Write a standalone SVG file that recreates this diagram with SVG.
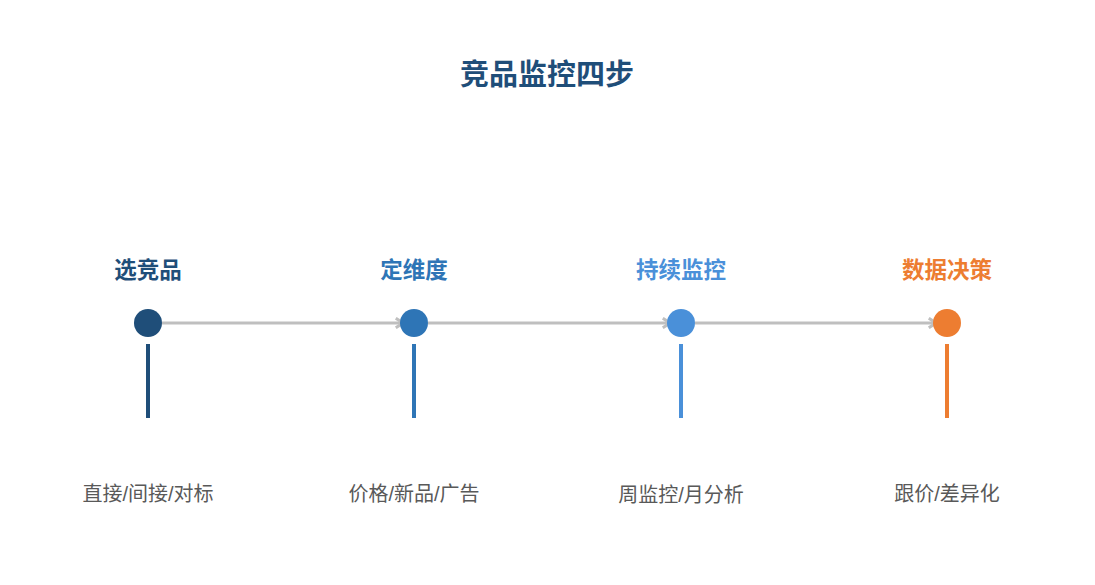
<svg xmlns="http://www.w3.org/2000/svg" width="1095" height="585" viewBox="0 0 1095 585">
<style>
text{font-family:"Liberation Sans","Noto Sans CJK SC",sans-serif;text-anchor:middle}
.title{font-size:29px;font-weight:bold;fill:#1f4e79}
.step{font-size:22.5px;font-weight:bold}
.desc{font-size:20px;fill:#595959}
.conn{stroke:#bfbfbf;stroke-width:3;fill:none}
.stem{stroke-width:4}
</style>
<defs>
<marker id="arr" viewBox="0 0 10 10" refX="8" refY="5" markerWidth="4" markerHeight="4" orient="auto" markerUnits="strokeWidth">
<path d="M2,1 L8,5 L2,9" fill="none" stroke="#bfbfbf" stroke-width="2.5"/>
</marker>
</defs>
<rect width="1095" height="585" fill="#ffffff"/>
<text class="title" x="547" y="85">竞品监控四步</text>
<g id="connectors">
<line class="conn" x1="162" y1="323" x2="403" y2="323" marker-end="url(#arr)"/>
<line class="conn" x1="428" y1="323" x2="670" y2="323" marker-end="url(#arr)"/>
<line class="conn" x1="695" y1="323" x2="936" y2="323" marker-end="url(#arr)"/>
</g>
<g id="step1">
<text class="step" x="148" y="278" fill="#1f4e79">选竞品</text>
<circle cx="148" cy="323" r="14" fill="#1f4e79"/>
<line class="stem" x1="148" y1="344" x2="148" y2="418" stroke="#1f4e79"/>
<text class="desc" x="148" y="501">直接/间接/对标</text>
</g>
<g id="step2">
<text class="step" x="414" y="278" fill="#2e75b6">定维度</text>
<circle cx="414" cy="323" r="14" fill="#2e75b6"/>
<line class="stem" x1="414" y1="344" x2="414" y2="418" stroke="#2e75b6"/>
<text class="desc" x="414" y="501">价格/新品/广告</text>
</g>
<g id="step3">
<text class="step" x="681" y="278" fill="#4a90d9">持续监控</text>
<circle cx="681" cy="323" r="14" fill="#4a90d9"/>
<line class="stem" x1="681" y1="344" x2="681" y2="418" stroke="#4a90d9"/>
<text class="desc" x="681" y="502">周监控/月分析</text>
</g>
<g id="step4">
<text class="step" x="947" y="278" fill="#ed7d31">数据决策</text>
<circle cx="947" cy="323" r="14" fill="#ed7d31"/>
<line class="stem" x1="947" y1="344" x2="947" y2="418" stroke="#ed7d31"/>
<text class="desc" x="947" y="501">跟价/差异化</text>
</g>
</svg>
